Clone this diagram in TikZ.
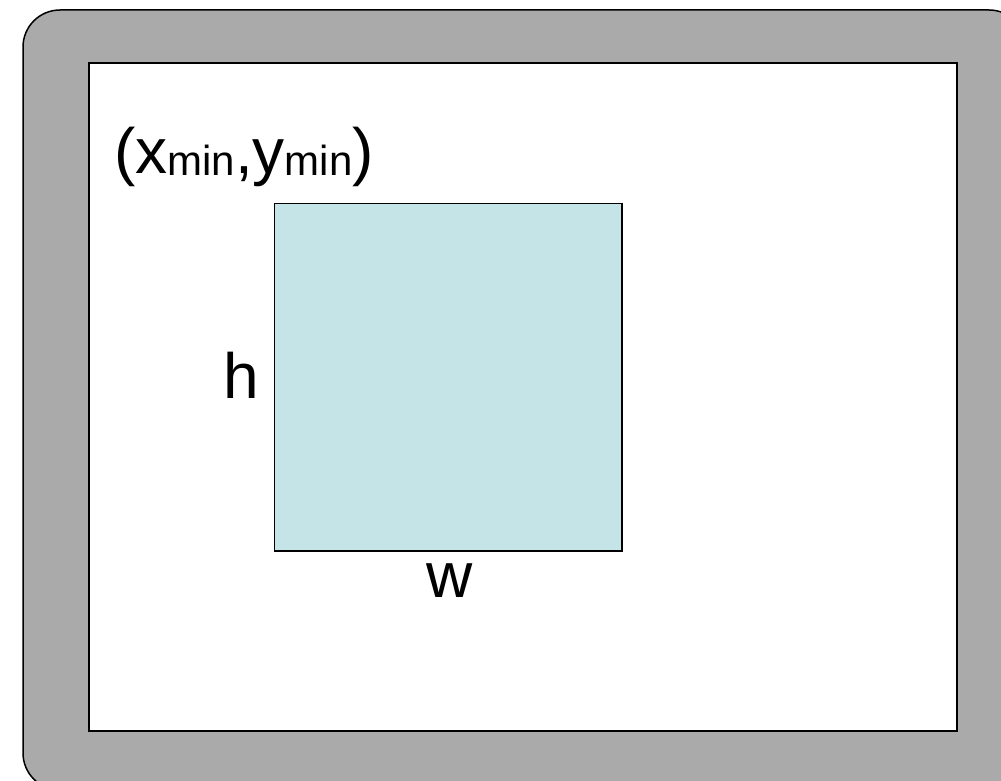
\documentclass[tikz,border=0pt]{standalone}
\usepackage{fontspec}
\setmainfont{Liberation Sans}
\usetikzlibrary{positioning}

\definecolor{framegray}{RGB}{170,170,170}
\definecolor{regionblue}{RGB}{196,228,231}

\newcommand{\subtxt}[1]{\raisebox{-2pt}{\fontsize{42}{50}\selectfont #1}}

\begin{document}
\begin{tikzpicture}[x=1pt,y=-1pt,
  bigtext/.style={font=\fontsize{64}{76}\selectfont,inner sep=0pt},
  edge/.style={draw=black,line width=1.5pt}]
  \useasboundingbox (0,0) rectangle (1001,781);
  \clip (0,0) rectangle (1001,781);
  % outer frame
  \draw[edge,fill=framegray,rounded corners=37pt] (23,10) rectangle (1026,790);
  % window
  \draw[edge,fill=white] (89,63) rectangle (957,731);
  \draw[line width=2.5pt] (957,63) -- (957,731) -- (89,731);
  % rectangle region
  \node[edge,fill=regionblue,minimum width=347pt,minimum height=347pt,
    inner sep=0pt,anchor=north west] (region) at (273.5,202.5) {};
  \draw[line width=2.5pt] (region.north east) -- (region.south east) -- (region.south west);
  % labels
  \node[bigtext,anchor=base west] (corner) at (114,173)
    {(x\subtxt{min},y\subtxt{min})};
  \node[bigtext,anchor=base] (height) at (241,398) {h};
  \node[bigtext,anchor=base] (width) at (450,597) {w};
\end{tikzpicture}
\end{document}
